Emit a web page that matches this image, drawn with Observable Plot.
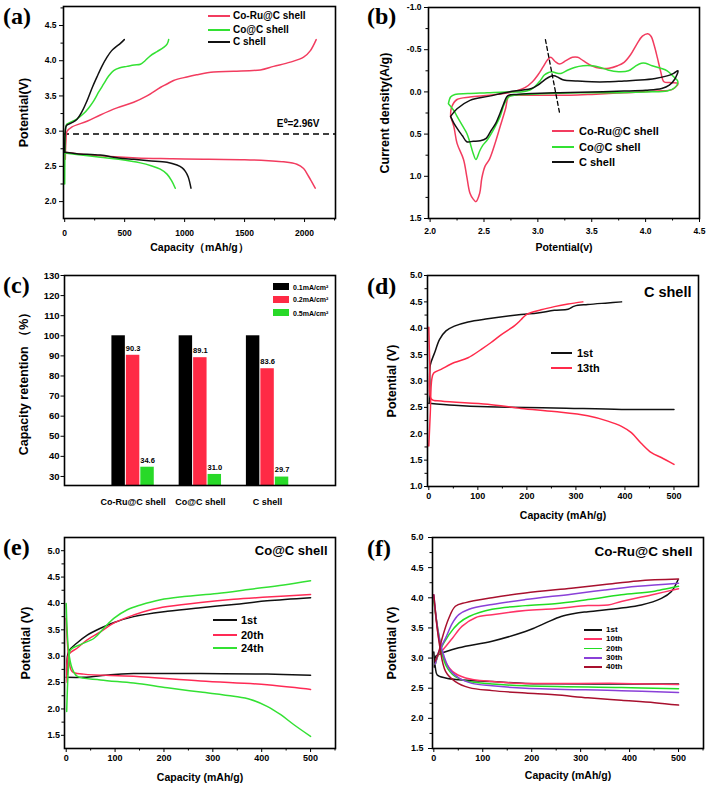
<!DOCTYPE html>
<html><head><meta charset="utf-8">
<script src="https://cdn.jsdelivr.net/npm/d3@7"></script>
<script src="https://cdn.jsdelivr.net/npm/@observablehq/plot@0.6"></script>
<style>
body{margin:0;background:#fff;}
#fig{position:relative;width:709px;height:788px;background:#fff;overflow:hidden;font-family:'Liberation Sans',Arial,sans-serif;font-weight:bold;color:#000}
.cell{position:absolute}
.cell svg{overflow:visible}
.plab{position:absolute;font-family:'Liberation Serif','Times New Roman',serif;font-weight:bold;font-size:24px;line-height:1}
.lg{position:absolute;line-height:1;transform:translateY(-50%);white-space:nowrap}
.sw{position:absolute}
</style></head><body><div id="fig"></div><script>
const FONT = "'Liberation Sans', Arial, Helvetica, sans-serif";
const RED = "#f23c5f", GREEN = "#33e133", BLACK = "#111111";

// ---------- (a) charge / discharge ----------
const aNames = ["Co-Ru@C shell", "Co@C shell", "C shell"];
const aXTicks = [0, 500, 1000, 1500, 2000];
const aYTicks = [2.0, 2.5, 3.0, 3.5, 4.0, 4.5];
const aE0 = 2.96;
const aE0Label = "E⁰=2.96V";
const aRedCharge = [[5,2.6],[10,2.85],[20,3.0],[61,3.06],[186,3.14],[297,3.23],[436,3.33],[575,3.41],[686,3.5],[797,3.62],[853,3.67],[908,3.72],[1019,3.77],[1100,3.8],[1242,3.84],[1408,3.85],[1631,3.87],[1742,3.92],[1881,3.98],[1992,4.05],[2047,4.14],[2097,4.30]];
const aRedDischarge = [[0,2.7],[100,2.68],[297,2.65],[600,2.62],[900,2.61],[1200,2.6],[1500,2.595],[1700,2.58],[1825,2.565],[1936,2.53],[1992,2.47],[2033,2.36],[2060,2.28],[2089,2.19]];
const aGreenCharge = [[0,2.25],[3,2.8],[8,3.05],[19,3.1],[100,3.17],[158,3.25],[200,3.33],[242,3.43],[285,3.56],[325,3.67],[365,3.78],[408,3.86],[460,3.9],[519,3.92],[580,3.94],[631,3.95],[670,4.0],[714,4.07],[770,4.13],[825,4.19],[855,4.24],[867,4.3]];
const aGreenDischarge = [[0,2.69],[100,2.67],[297,2.63],[450,2.6],[631,2.55],[720,2.51],[797,2.46],[853,2.39],[890,2.3],[922,2.19]];
const aBlackCharge = [[0,2.7],[5,3.0],[15,3.08],[60,3.12],[103,3.17],[145,3.28],[186,3.43],[230,3.62],[269,3.77],[310,3.92],[353,4.05],[390,4.14],[422,4.19],[460,4.24],[497,4.30]];
const aBlackDischarge = [[0,2.7],[100,2.68],[297,2.66],[450,2.62],[575,2.6],[700,2.58],[853,2.56],[936,2.52],[980,2.48],[1006,2.43],[1030,2.35],[1053,2.19]];

// ---------- (b) CV ----------
const bXTicks = [2.0, 2.5, 3.0, 3.5, 4.0, 4.5];
const bYTicks = [-1.0, -0.5, 0.0, 0.5, 1.0, 1.5];
const bRed = [[2.19,0.29],[2.2,0.18],[2.25,0.09],[2.37,0.06],[2.55,0.04],[2.73,0.01],[2.8,-0.01],[2.88,-0.05],[2.95,-0.12],[3.0,-0.2],[3.05,-0.3],[3.09,-0.38],[3.12,-0.41],[3.16,-0.36],[3.2,-0.33],[3.26,-0.37],[3.32,-0.41],[3.37,-0.41],[3.42,-0.37],[3.5,-0.31],[3.58,-0.28],[3.66,-0.28],[3.74,-0.31],[3.8,-0.35],[3.86,-0.44],[3.92,-0.57],[3.97,-0.66],[4.02,-0.69],[4.05,-0.66],[4.08,-0.55],[4.11,-0.4],[4.14,-0.24],[4.17,-0.12],[4.22,-0.11],[4.3,-0.1],[4.25,-0.03],[4.1,-0.01],[3.8,0.01],[3.5,0.03],[3.3,0.04],[3.1,0.04],[2.9,0.04],[2.78,0.04],[2.73,0.05],[2.7,0.2],[2.65,0.41],[2.6,0.62],[2.55,0.8],[2.51,0.88],[2.48,1.02],[2.46,1.2],[2.425,1.3],[2.4,1.27],[2.37,1.2],[2.34,1.0],[2.31,0.8],[2.25,0.61],[2.22,0.41],[2.19,0.29]];
const bGreen = [[2.17,0.14],[2.19,0.06],[2.23,0.03],[2.35,0.02],[2.53,0.01],[2.7,0.0],[2.84,0.0],[2.92,-0.02],[2.97,-0.06],[3.02,-0.13],[3.06,-0.2],[3.1,-0.23],[3.13,-0.24],[3.18,-0.22],[3.22,-0.22],[3.28,-0.26],[3.34,-0.29],[3.42,-0.31],[3.5,-0.31],[3.58,-0.29],[3.65,-0.26],[3.75,-0.24],[3.84,-0.25],[3.9,-0.3],[3.96,-0.34],[4.0,-0.34],[4.06,-0.31],[4.14,-0.28],[4.2,-0.25],[4.26,-0.18],[4.3,-0.12],[4.27,-0.05],[4.2,-0.01],[4.0,0.0],[3.7,0.01],[3.4,0.01],[3.1,0.02],[2.9,0.03],[2.78,0.04],[2.73,0.06],[2.69,0.14],[2.65,0.29],[2.6,0.42],[2.53,0.57],[2.49,0.63],[2.46,0.7],[2.425,0.8],[2.4,0.73],[2.37,0.6],[2.34,0.49],[2.3,0.4],[2.25,0.29],[2.22,0.22],[2.17,0.14]];
const bBlack = [[2.19,0.29],[2.25,0.2],[2.37,0.1],[2.55,0.05],[2.73,0.0],[2.85,-0.02],[2.94,-0.04],[3.0,-0.08],[3.06,-0.14],[3.11,-0.18],[3.15,-0.19],[3.19,-0.17],[3.24,-0.14],[3.35,-0.13],[3.5,-0.12],[3.65,-0.12],[3.8,-0.13],[3.95,-0.14],[4.09,-0.16],[4.2,-0.19],[4.26,-0.22],[4.3,-0.25],[4.27,-0.15],[4.22,-0.08],[4.15,-0.04],[4.0,-0.02],[3.8,-0.01],[3.5,0.0],[3.2,0.01],[2.95,0.02],[2.8,0.03],[2.73,0.04],[2.71,0.06],[2.68,0.15],[2.65,0.25],[2.61,0.37],[2.56,0.47],[2.52,0.55],[2.465,0.58],[2.4,0.585],[2.34,0.59],[2.3,0.52],[2.26,0.45],[2.22,0.37],[2.19,0.29]];
const bGuide = [[3.07,-0.62],[3.2,0.24]];

// ---------- (c) capacity retention ----------
const cCats = ["Co-Ru@C shell", "Co@C shell", "C shell"];
const cRates = ["0.1mA/cm²", "0.2mA/cm²", "0.5mA/cm²"];
const cRate01 = [100, 100, 100];
const cRate02 = [90.3, 89.1, 83.6];
const cRate05 = [34.6, 31.0, 29.7];
const cYTicks = [30, 40, 50, 60, 70, 80, 90, 100, 110, 120, 130];
const cColors = ["#000000", "#ff2a45", "#28d928"];

// ---------- (d) C shell ----------
const dNames = ["1st", "13th"];
const dXTicks = [0, 100, 200, 300, 400, 500];
const dYTicks = [1.0, 1.5, 2.0, 2.5, 3.0, 3.5, 4.0, 4.5, 5.0];
const d1stCharge = [[1,2.58],[2,2.9],[3,3.3],[12,3.54],[22,3.79],[35,3.95],[52,4.04],[80,4.12],[120,4.18],[188,4.26],[222,4.29],[256,4.34],[284,4.36],[297,4.42],[324,4.45],[365,4.48],[393,4.50]];
const d1stDischarge = [[0,2.58],[52,2.54],[120,2.51],[256,2.49],[393,2.46],[500,2.46]];
const d13Charge = [[0,1.77],[3,2.4],[6,3.03],[10,3.15],[25,3.22],[52,3.35],[80,3.44],[107,3.6],[127,3.73],[148,3.88],[175,4.05],[188,4.16],[199,4.26],[229,4.35],[256,4.41],[284,4.46],[314,4.50]];
const d13Discharge = [[0,4.02],[2,3.3],[5,2.66],[25,2.62],[120,2.56],[188,2.48],[256,2.42],[324,2.34],[365,2.24],[393,2.14],[413,2.02],[433,1.82],[454,1.64],[474,1.55],[500,1.42]];

// ---------- (e) Co@C shell ----------
const eNames = ["1st", "20th", "24th"];
const eYTicks = [1.5, 2.0, 2.5, 3.0, 3.5, 4.0, 4.5, 5.0];
const e1stCharge = [[2,2.65],[5,3.09],[22,3.25],[43,3.40],[70,3.53],[98,3.64],[138,3.75],[207,3.85],[275,3.92],[343,3.98],[411,4.05],[500,4.11]];
const e1stDischarge = [[0,2.6],[36,2.6],[91,2.65],[138,2.67],[275,2.67],[411,2.66],[500,2.64]];
const e20Charge = [[2,2.5],[5,3.03],[22,3.15],[43,3.31],[70,3.46],[98,3.63],[138,3.78],[173,3.88],[207,3.94],[275,4.02],[343,4.08],[411,4.12],[500,4.17]];
const e20Discharge = [[0,3.72],[5,3.0],[12,2.71],[36,2.66],[138,2.62],[275,2.53],[411,2.46],[500,2.37]];
const e24Charge = [[1,1.95],[5,2.84],[9,3.12],[29,3.22],[57,3.34],[77,3.53],[98,3.72],[125,3.88],[152,3.97],[193,4.07],[241,4.13],[309,4.19],[377,4.27],[445,4.35],[500,4.43]];
const e24Discharge = [[0,4.0],[5,3.09],[12,2.77],[22,2.62],[70,2.55],[138,2.49],[207,2.4],[275,2.32],[343,2.24],[377,2.18],[411,2.05],[439,1.89],[466,1.70],[500,1.48]];

// ---------- (f) Co-Ru@C shell ----------
const fNames = ["1st", "10th", "20th", "30th", "40th"];
const fYTicks = [1.5, 2.0, 2.5, 3.0, 3.5, 4.0, 4.5, 5.0];
const f1stCharge = [[1,2.85],[4,3.03],[10,3.06],[51,3.17],[119,3.28],[187,3.44],[206,3.5],[233,3.6],[260,3.69],[287,3.74],[315,3.77],[383,3.83],[424,3.88],[465,3.99],[485,4.1],[499,4.3]];
const f1stDischarge = [[0,3.1],[3,2.85],[7,2.72],[24,2.67],[51,2.64],[119,2.61],[187,2.58],[247,2.575],[383,2.57],[500,2.57]];
const f10Charge = [[3,2.9],[10,3.06],[20,3.15],[38,3.33],[58,3.53],[85,3.67],[119,3.72],[187,3.79],[247,3.82],[315,3.87],[356,3.88],[383,3.94],[451,4.06],[500,4.15]];
const f10Discharge = [[0,4.0],[10,3.33],[20,3.0],[38,2.78],[65,2.67],[119,2.61],[187,2.58],[383,2.58],[500,2.56]];
const f20Charge = [[3,2.9],[10,3.08],[31,3.39],[51,3.58],[72,3.69],[119,3.81],[187,3.87],[247,3.9],[315,3.97],[383,4.05],[451,4.11],[500,4.19]];
const f20Discharge = [[0,3.95],[10,3.4],[24,2.89],[44,2.69],[72,2.61],[119,2.57],[187,2.54],[383,2.51],[500,2.49]];
const f30Charge = [[3,2.9],[10,3.1],[24,3.33],[38,3.58],[51,3.72],[72,3.81],[119,3.89],[187,3.97],[281,4.06],[349,4.13],[417,4.19],[500,4.24]];
const f30Discharge = [[0,4.05],[12,3.3],[31,2.83],[51,2.67],[78,2.58],[119,2.54],[187,2.5],[383,2.46],[500,2.43]];
const f40Charge = [[3,2.95],[10,3.1],[17,3.33],[31,3.67],[44,3.86],[65,3.92],[119,4.0],[187,4.08],[281,4.16],[349,4.22],[417,4.28],[500,4.31]];
const f40Discharge = [[0,4.05],[12,3.2],[24,2.78],[44,2.61],[72,2.51],[119,2.46],[187,2.42],[247,2.39],[315,2.34],[383,2.3],[451,2.26],[500,2.22]];
const fColors = ["#111111", "#ff3366", "#22dd22", "#8a40d8", "#a8102e"];

// ---------- helpers ----------
const fig = document.getElementById("fig");
function place(svg, left, top) {
  const d = document.createElement("div");
  d.className = "cell"; d.style.left = left + "px"; d.style.top = top + "px";
  d.appendChild(svg); fig.appendChild(d);
}
function panelLabel(txt, left, top) {
  const d = document.createElement("div");
  d.className = "plab"; d.textContent = txt;
  d.style.left = left + "px"; d.style.top = top + "px"; fig.appendChild(d);
}
function lineLegend(names, colors, x1, x2, tx, ys, font) {
  names.forEach((n, i) => {
    const s = document.createElement("div");
    s.className = "sw";
    s.style.cssText = `left:${x1}px;top:${ys[i] - 0.9}px;width:${x2 - x1}px;height:1.8px;background:${colors[i]}`;
    fig.appendChild(s);
    const t = document.createElement("div");
    t.className = "lg"; t.textContent = n;
    t.style.cssText += `left:${tx}px;top:${ys[i]}px;font-size:${font}px`;
    fig.appendChild(t);
  });
}
function minors(ticks, domain) {
  const step = ticks[1] - ticks[0];
  const lo = Math.min(...domain), hi = Math.max(...domain);
  return [ticks[0] - step / 2, ...ticks.map(v => v + step / 2)].filter(v => v > lo + 1e-9 && v < hi - 1e-9);
}
const fmt1 = d => d.toFixed(1);
const fmt0 = d => String(d);
function yTitle(txt, dx, size) {
  return Plot.text([txt], {text: d => d, frameAnchor: "left", dx, rotate: -90, textAnchor: "middle", lineAnchor: "middle", fontSize: size, fontWeight: "bold"});
}
function xTitle(txt, dy, size) {
  return Plot.text([txt], {text: d => d, frameAnchor: "bottom", dy, textAnchor: "middle", lineAnchor: "middle", fontSize: size, fontWeight: "bold"});
}

function linePanel(o) {
  const marks = [];
  if (o.before) marks.push(...o.before);
  for (const s of o.series) {
    marks.push(Plot.line(s.data, {x: d => d[0], y: d => d[1], stroke: s.color, strokeWidth: 1.5, curve: "catmull-rom"}));
  }
  if (o.after) marks.push(...o.after);
  marks.push(Plot.frame({stroke: "#000", strokeWidth: 1.6}));
  marks.push(Plot.axisX({ticks: o.xTicks, tickSize: 4, tickPadding: o.xPad, tickFormat: o.xFmt, label: null, fontSize: o.tickFont, fontWeight: "bold"}));
  marks.push(Plot.axisX({ticks: minors(o.xTicks, o.xDomain), tickSize: 2.5, tickFormat: () => "", label: null}));
  marks.push(Plot.axisY({ticks: o.yTicks, tickSize: o.yTick, tickPadding: o.yPad, tickFormat: o.yFmt, label: null, fontSize: o.tickFont, fontWeight: "bold"}));
  marks.push(Plot.axisY({ticks: minors(o.yTicks, o.yDomain), tickSize: 2.5, tickFormat: () => "", label: null}));
  marks.push(xTitle(o.xLabel, o.xLabelDy, 10.5));
  marks.push(yTitle(o.yLabel, o.yLabelDx, 12.5));
  if (o.title) marks.push(Plot.text([o.title], {text: d => d, frameAnchor: "top-right", dx: o.titleDx, dy: o.titleDy, textAnchor: "end", lineAnchor: "middle", fontSize: o.titleFont, fontWeight: "bold"}));
  const svg = Plot.plot({
    width: o.w, height: o.h,
    marginLeft: o.m[0], marginRight: o.m[1], marginTop: o.m[2], marginBottom: o.m[3],
    x: {domain: o.xDomain},
    y: {domain: o.yDomain, reverse: !!o.yReverse},
    style: {fontFamily: FONT, fontWeight: "bold", fontSize: o.tickFont + "px", color: "#000", background: "transparent", overflow: "visible"},
    marks
  });
  place(svg, o.left, o.top);
}

// ---------- (a) ----------
linePanel({
  left: 0, top: 0, w: 354, h: 262, m: [63, 19, 6, 44],
  xDomain: [-10, 2258], yDomain: [1.76, 4.77],
  xTicks: aXTicks, yTicks: aYTicks, xFmt: fmt0, yFmt: fmt1, tickFont: 8.5, xPad: 7, yTick: 4, yPad: 3,
  xLabel: "Capacity（mAh/g）", yLabel: "Potential(V)", xLabelDy: 29, yLabelDx: -40,
  before: [Plot.ruleY([aE0], {stroke: "#000", strokeWidth: 1.5, strokeDasharray: "6,4"})],
  series: [
    {data: aRedCharge, color: RED}, {data: aRedDischarge, color: RED},
    {data: aGreenCharge, color: GREEN}, {data: aGreenDischarge, color: GREEN},
    {data: aBlackCharge, color: BLACK}, {data: aBlackDischarge, color: BLACK}
  ],
  after: [Plot.text([aE0Label], {text: d => d, frameAnchor: "right", dx: -16, dy: 11, textAnchor: "end", lineAnchor: "middle", fontSize: 10, fontWeight: "bold"})]
});
panelLabel("(a)", 3, 4);
lineLegend(aNames, [RED, GREEN, BLACK], 208, 230, 233, [16, 30, 42], 10);

// ---------- (b) ----------
linePanel({
  left: 354, top: 0, w: 355, h: 262, m: [74, 10, 7, 44],
  xDomain: [1.985, 4.5], yDomain: [-1.0, 1.5], yReverse: true,
  xTicks: bXTicks, yTicks: bYTicks, xFmt: fmt1, yFmt: fmt1, tickFont: 8.5, xPad: 5, yTick: 4, yPad: 3,
  xLabel: "Potential(v)", yLabel: "Current density(A/g)", xLabelDy: 29, yLabelDx: -44,
  series: [{data: bRed, color: RED}, {data: bGreen, color: GREEN}, {data: bBlack, color: BLACK}],
  after: [Plot.line(bGuide, {x: d => d[0], y: d => d[1], stroke: "#000", strokeWidth: 1.3, strokeDasharray: "4,3"})]
});
panelLabel("(b)", 367, 4);
lineLegend(aNames, [RED, GREEN, BLACK], 552, 574, 579, [131, 147, 162], 11);

// ---------- (c) ----------
(function () {
  const cYMin = 25.5;
  const offs = [-0.215, 0, 0.215], half = 0.1;
  const series = [cRate01, cRate02, cRate05];
  const table = cCats.flatMap((c, i) => series.map((arr, k) => ({cat: c, g: i + 1, k, rate: cRates[k], v: arr[i]})));
  const svg = Plot.plot({
    width: 354, height: 262, marginLeft: 64, marginRight: 19, marginTop: 13, marginBottom: 39,
    x: {domain: [-0.02, 4.01]},
    y: {domain: [cYMin, 130]},
    style: {fontFamily: FONT, fontWeight: "bold", fontSize: "10px", color: "#000", background: "transparent", overflow: "visible"},
    marks: [
      Plot.rectY(table, {x1: d => d.g + offs[d.k] - half, x2: d => d.g + offs[d.k] + half, y1: d => cYMin, y2: "v", fill: d => cColors[d.k]}),
      Plot.text(table.filter(d => d.k > 0), {x: d => d.g + offs[d.k], y: "v", text: d => d.v.toFixed(1), dy: -7, fontSize: 7.5, fontWeight: "bold"}),
      Plot.frame({stroke: "#000", strokeWidth: 1.6}),
      Plot.axisY({ticks: cYTicks, tickSize: 3.5, tickPadding: 1.5, label: null, fontSize: 9.5, fontWeight: "bold"}),
      Plot.axisX({ticks: [1, 2, 3], tickFormat: i => cCats[i - 1], tickSize: 0, tickPadding: 13, label: null, fontSize: 9, fontWeight: "bold"}),
      yTitle("Capacity retention （%）", -41, 12.5)
    ]
  });
  place(svg, 0, 262);
  const ys = [286.5, 299, 312.5];
  cRates.forEach((r, i) => {
    const b = document.createElement("div");
    b.className = "sw";
    b.style.cssText = `left:273px;top:${ys[i] - 3.5}px;width:16px;height:7px;background:${cColors[i]}`;
    fig.appendChild(b);
    const t = document.createElement("div");
    t.className = "lg"; t.textContent = r;
    t.style.cssText += `left:293px;top:${ys[i]}px;font-size:7px`;
    fig.appendChild(t);
  });
})();
panelLabel("(c)", 3, 273);

// ---------- (d) ----------
linePanel({
  left: 354, top: 262, w: 355, h: 262, m: [73, 11, 13, 38],
  xDomain: [-2.7, 550], yDomain: [1.0, 5.0],
  xTicks: dXTicks, yTicks: dYTicks, xFmt: fmt0, yFmt: fmt1, tickFont: 9, xPad: 2, yTick: 3, yPad: 2,
  xLabel: "Capacity (mAh/g)", yLabel: "Potential (V)", xLabelDy: 29, yLabelDx: -36,
  series: [
    {data: d1stCharge, color: BLACK}, {data: d1stDischarge, color: BLACK},
    {data: d13Charge, color: "#ff2a4a"}, {data: d13Discharge, color: "#ff2a4a"}
  ],
  title: "C shell", titleDx: -7, titleDy: 17, titleFont: 14.5
});
panelLabel("(d)", 367, 274);
lineLegend(dNames, [BLACK, "#ff2a4a"], 551, 572, 577, [353, 368], 11);

// ---------- (e) ----------
linePanel({
  left: 0, top: 524, w: 354, h: 264, m: [64, 19, 13, 40],
  xDomain: [-3.5, 551], yDomain: [1.25, 5.25],
  xTicks: dXTicks, yTicks: eYTicks, xFmt: fmt0, yFmt: fmt1, tickFont: 9, xPad: 2, yTick: 3, yPad: 1.5,
  xLabel: "Capacity (mAh/g)", yLabel: "Potential (V)", xLabelDy: 29, yLabelDx: -39,
  series: [
    {data: e1stCharge, color: BLACK}, {data: e1stDischarge, color: BLACK},
    {data: e20Charge, color: "#ff2a55"}, {data: e20Discharge, color: "#ff2a55"},
    {data: e24Charge, color: GREEN}, {data: e24Discharge, color: GREEN}
  ],
  title: "Co@C shell", titleDx: -8, titleDy: 13, titleFont: 13
});
panelLabel("(e)", 3, 535);
lineLegend(eNames, [BLACK, "#ff2a55", GREEN], 213, 237, 241, [620, 635, 648], 11);

// ---------- (f) ----------
linePanel({
  left: 354, top: 524, w: 355, h: 264, m: [78, 6, 13, 40],
  xDomain: [-2.7, 551], yDomain: [1.5, 5.0],
  xTicks: dXTicks, yTicks: fYTicks, xFmt: fmt0, yFmt: fmt1, tickFont: 9, xPad: 2, yTick: 4, yPad: 5,
  xLabel: "Capacity (mAh/g)", yLabel: "Potential (V)", xLabelDy: 27, yLabelDx: -41,
  series: [
    {data: f1stCharge, color: fColors[0]}, {data: f1stDischarge, color: fColors[0]},
    {data: f10Charge, color: fColors[1]}, {data: f10Discharge, color: fColors[1]},
    {data: f20Charge, color: fColors[2]}, {data: f20Discharge, color: fColors[2]},
    {data: f30Charge, color: fColors[3]}, {data: f30Discharge, color: fColors[3]},
    {data: f40Charge, color: fColors[4]}, {data: f40Discharge, color: fColors[4]}
  ],
  title: "Co-Ru@C shell", titleDx: -11, titleDy: 14, titleFont: 13.5
});
panelLabel("(f)", 367, 536);
lineLegend(fNames, fColors, 584, 602, 606, [630, 639.3, 648.6, 657.9, 667.2], 8);
</script></body></html>
